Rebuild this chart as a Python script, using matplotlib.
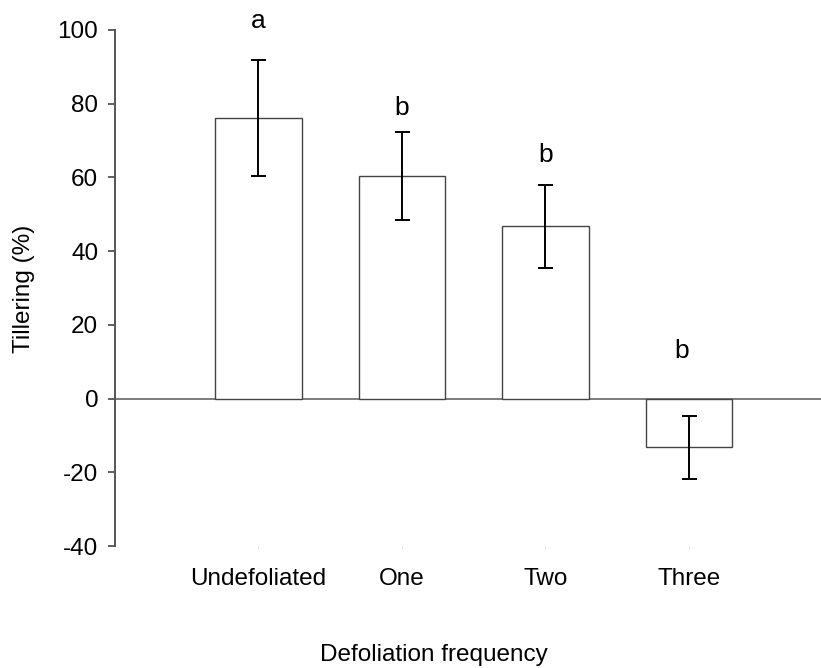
import numpy as np
import matplotlib as mpl
mpl.use('Agg')
import matplotlib.pyplot as plt

plt.rcParams['font.family'] = ['Liberation Sans', 'DejaVu Sans']
plt.rcParams['axes.unicode_minus'] = False

# data
categories = ["Undefoliated", "One", "Two", "Three"]
tillering = [76.2, 60.5, 46.7, -13.0]
err_upper = [15.7, 11.8, 11.3, 8.4]
err_lower = [15.8, 12.0, 11.2, 8.7]
letters = ["a", "b", "b", "b"]
letter_y = [100.5, 77.0, 64.2, 11.1]

fig = plt.figure(figsize=(8.21, 6.68), dpi=100)
ax = fig.add_axes([115/821, 0.1826, 1 - 115/821, 0.7725])

x = np.arange(len(categories))
ax.bar(x, tillering, width=0.6, color='white', edgecolor='#444444', linewidth=1.0, zorder=2)
ax.errorbar(x, tillering, yerr=[err_lower, err_upper], fmt='none', ecolor='black',
            elinewidth=1.4, capsize=5.4, capthick=1.4, zorder=3)
ax.axhline(0, color='#666666', linewidth=1.2, zorder=1)

for xi, lab, ly in zip(x, letters, letter_y):
    ax.text(xi - (0.05 if xi == 3 else 0), ly, lab, ha='center', va='baseline', fontsize=19)

ax.set_xlim(-1, 3.92)
ax.set_ylim(-40, 100)
ax.set_yticks(np.arange(-40, 101, 20))
ax.set_xticks(x)
ax.set_xticklabels(categories)
ax.tick_params(axis='y', labelsize=17.5, length=5, width=1.2, color='#444444', pad=7)
ax.tick_params(axis='x', labelsize=17.5, length=1.5, width=0.5, color='#cccccc', pad=14)

for s in ['top', 'right', 'bottom']:
    ax.spines[s].set_visible(False)
ax.spines['left'].set_color('#555555')
ax.spines['left'].set_linewidth(1.4)

fig.text(24/821, 1 - 289/668, 'Tillering (%)', rotation=90, ha='center', va='center', fontsize=17.5)
fig.text(434/821, 1 - 655/668, 'Defoliation frequency', ha='center', va='center', fontsize=17.5)

fig.savefig('out.png', dpi=100)
